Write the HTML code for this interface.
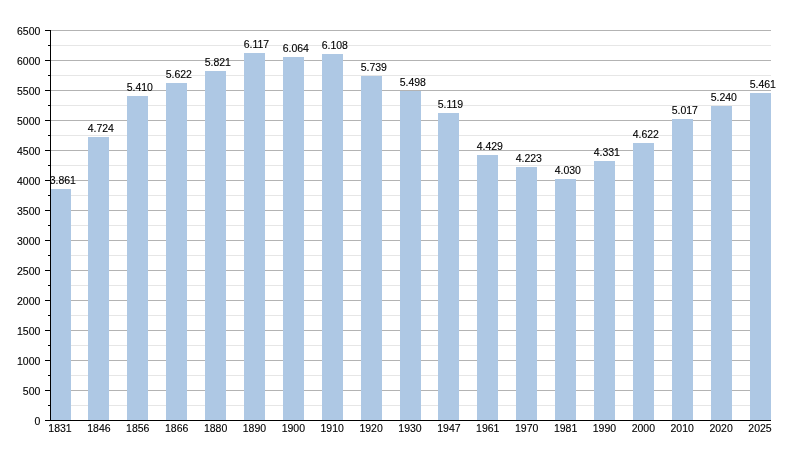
<!DOCTYPE html>
<html><head><meta charset="utf-8"><style>
html,body{margin:0;padding:0;background:#fff;width:800px;height:450px;overflow:hidden}
svg{display:block;will-change:transform}
text{font-family:"Liberation Sans",sans-serif;font-size:10.5px;fill:#000;stroke:#000;stroke-width:0.12px}
</style></head><body>
<svg width="800" height="450" viewBox="0 0 800 450">
<g shape-rendering="crispEdges">
<rect x="51" y="405" width="720" height="1" fill="#e6e6e6"/>
<rect x="51" y="375" width="720" height="1" fill="#e6e6e6"/>
<rect x="51" y="345" width="720" height="1" fill="#e6e6e6"/>
<rect x="51" y="315" width="720" height="1" fill="#e6e6e6"/>
<rect x="51" y="285" width="720" height="1" fill="#e6e6e6"/>
<rect x="51" y="255" width="720" height="1" fill="#e6e6e6"/>
<rect x="51" y="225" width="720" height="1" fill="#e6e6e6"/>
<rect x="51" y="195" width="720" height="1" fill="#e6e6e6"/>
<rect x="51" y="165" width="720" height="1" fill="#e6e6e6"/>
<rect x="51" y="135" width="720" height="1" fill="#e6e6e6"/>
<rect x="51" y="105" width="720" height="1" fill="#e6e6e6"/>
<rect x="51" y="75" width="720" height="1" fill="#e6e6e6"/>
<rect x="51" y="45" width="720" height="1" fill="#e6e6e6"/>
<rect x="51" y="390" width="720" height="1" fill="#b3b3b3"/>
<rect x="51" y="360" width="720" height="1" fill="#b3b3b3"/>
<rect x="51" y="330" width="720" height="1" fill="#b3b3b3"/>
<rect x="51" y="300" width="720" height="1" fill="#b3b3b3"/>
<rect x="51" y="270" width="720" height="1" fill="#b3b3b3"/>
<rect x="51" y="240" width="720" height="1" fill="#b3b3b3"/>
<rect x="51" y="210" width="720" height="1" fill="#b3b3b3"/>
<rect x="51" y="180" width="720" height="1" fill="#b3b3b3"/>
<rect x="51" y="150" width="720" height="1" fill="#b3b3b3"/>
<rect x="51" y="120" width="720" height="1" fill="#b3b3b3"/>
<rect x="51" y="90" width="720" height="1" fill="#b3b3b3"/>
<rect x="51" y="60" width="720" height="1" fill="#b3b3b3"/>
<rect x="51" y="30" width="720" height="1" fill="#b3b3b3"/>
<rect x="50" y="189" width="21" height="231" fill="#aec8e4"/>
<rect x="88" y="137" width="21" height="283" fill="#aec8e4"/>
<rect x="127" y="96" width="21" height="324" fill="#aec8e4"/>
<rect x="166" y="83" width="21" height="337" fill="#aec8e4"/>
<rect x="205" y="71" width="21" height="349" fill="#aec8e4"/>
<rect x="244" y="53" width="21" height="367" fill="#aec8e4"/>
<rect x="283" y="57" width="21" height="363" fill="#aec8e4"/>
<rect x="322" y="54" width="21" height="366" fill="#aec8e4"/>
<rect x="361" y="76" width="21" height="344" fill="#aec8e4"/>
<rect x="400" y="91" width="21" height="329" fill="#aec8e4"/>
<rect x="438" y="113" width="21" height="307" fill="#aec8e4"/>
<rect x="477" y="155" width="21" height="265" fill="#aec8e4"/>
<rect x="516" y="167" width="21" height="253" fill="#aec8e4"/>
<rect x="555" y="179" width="21" height="241" fill="#aec8e4"/>
<rect x="594" y="161" width="21" height="259" fill="#aec8e4"/>
<rect x="633" y="143" width="21" height="277" fill="#aec8e4"/>
<rect x="672" y="119" width="21" height="301" fill="#aec8e4"/>
<rect x="711" y="106" width="21" height="314" fill="#aec8e4"/>
<rect x="750" y="93" width="21" height="327" fill="#aec8e4"/>
<rect x="50" y="30" width="1" height="391" fill="#000"/>
<rect x="45" y="420" width="726" height="1" fill="#000"/>
<rect x="45" y="420" width="5" height="1" fill="#000"/>
<rect x="45" y="390" width="5" height="1" fill="#000"/>
<rect x="45" y="360" width="5" height="1" fill="#000"/>
<rect x="45" y="330" width="5" height="1" fill="#000"/>
<rect x="45" y="300" width="5" height="1" fill="#000"/>
<rect x="45" y="270" width="5" height="1" fill="#000"/>
<rect x="45" y="240" width="5" height="1" fill="#000"/>
<rect x="45" y="210" width="5" height="1" fill="#000"/>
<rect x="45" y="180" width="5" height="1" fill="#000"/>
<rect x="45" y="150" width="5" height="1" fill="#000"/>
<rect x="45" y="120" width="5" height="1" fill="#000"/>
<rect x="45" y="90" width="5" height="1" fill="#000"/>
<rect x="45" y="60" width="5" height="1" fill="#000"/>
<rect x="45" y="30" width="5" height="1" fill="#000"/>
<rect x="48" y="405" width="2" height="1" fill="#000"/>
<rect x="48" y="375" width="2" height="1" fill="#000"/>
<rect x="48" y="345" width="2" height="1" fill="#000"/>
<rect x="48" y="315" width="2" height="1" fill="#000"/>
<rect x="48" y="285" width="2" height="1" fill="#000"/>
<rect x="48" y="255" width="2" height="1" fill="#000"/>
<rect x="48" y="225" width="2" height="1" fill="#000"/>
<rect x="48" y="195" width="2" height="1" fill="#000"/>
<rect x="48" y="165" width="2" height="1" fill="#000"/>
<rect x="48" y="135" width="2" height="1" fill="#000"/>
<rect x="48" y="105" width="2" height="1" fill="#000"/>
<rect x="48" y="75" width="2" height="1" fill="#000"/>
<rect x="48" y="45" width="2" height="1" fill="#000"/>
</g>
<text x="40.4" y="425.20" text-anchor="end">0</text>
<text x="40.4" y="395.20" text-anchor="end">500</text>
<text x="40.4" y="365.20" text-anchor="end">1000</text>
<text x="40.4" y="335.20" text-anchor="end">1500</text>
<text x="40.4" y="305.20" text-anchor="end">2000</text>
<text x="40.4" y="275.20" text-anchor="end">2500</text>
<text x="40.4" y="245.20" text-anchor="end">3000</text>
<text x="40.4" y="215.20" text-anchor="end">3500</text>
<text x="40.4" y="185.20" text-anchor="end">4000</text>
<text x="40.4" y="155.20" text-anchor="end">4500</text>
<text x="40.4" y="125.20" text-anchor="end">5000</text>
<text x="40.4" y="95.20" text-anchor="end">5500</text>
<text x="40.4" y="65.20" text-anchor="end">6000</text>
<text x="40.4" y="35.20" text-anchor="end">6500</text>
<text x="60.00" y="432" text-anchor="middle">1831</text>
<text x="98.89" y="432" text-anchor="middle">1846</text>
<text x="137.78" y="432" text-anchor="middle">1856</text>
<text x="176.67" y="432" text-anchor="middle">1866</text>
<text x="215.56" y="432" text-anchor="middle">1880</text>
<text x="254.44" y="432" text-anchor="middle">1890</text>
<text x="293.33" y="432" text-anchor="middle">1900</text>
<text x="332.22" y="432" text-anchor="middle">1910</text>
<text x="371.11" y="432" text-anchor="middle">1920</text>
<text x="410.00" y="432" text-anchor="middle">1930</text>
<text x="448.89" y="432" text-anchor="middle">1947</text>
<text x="487.78" y="432" text-anchor="middle">1961</text>
<text x="526.67" y="432" text-anchor="middle">1970</text>
<text x="565.56" y="432" text-anchor="middle">1981</text>
<text x="604.44" y="432" text-anchor="middle">1990</text>
<text x="643.33" y="432" text-anchor="middle">2000</text>
<text x="682.22" y="432" text-anchor="middle">2010</text>
<text x="721.11" y="432" text-anchor="middle">2020</text>
<text x="760.00" y="432" text-anchor="middle">2025</text>
<text x="49.70" y="184">3.861</text>
<text x="87.70" y="132">4.724</text>
<text x="126.70" y="91">5.410</text>
<text x="165.70" y="78">5.622</text>
<text x="204.70" y="66">5.821</text>
<text x="243.70" y="48">6.117</text>
<text x="282.70" y="52">6.064</text>
<text x="321.70" y="49">6.108</text>
<text x="360.70" y="71">5.739</text>
<text x="399.70" y="86">5.498</text>
<text x="437.70" y="108">5.119</text>
<text x="476.70" y="150">4.429</text>
<text x="515.70" y="162">4.223</text>
<text x="554.70" y="174">4.030</text>
<text x="593.70" y="156">4.331</text>
<text x="632.70" y="138">4.622</text>
<text x="671.70" y="114">5.017</text>
<text x="710.70" y="101">5.240</text>
<text x="749.70" y="88">5.461</text>
</svg>
</body></html>
